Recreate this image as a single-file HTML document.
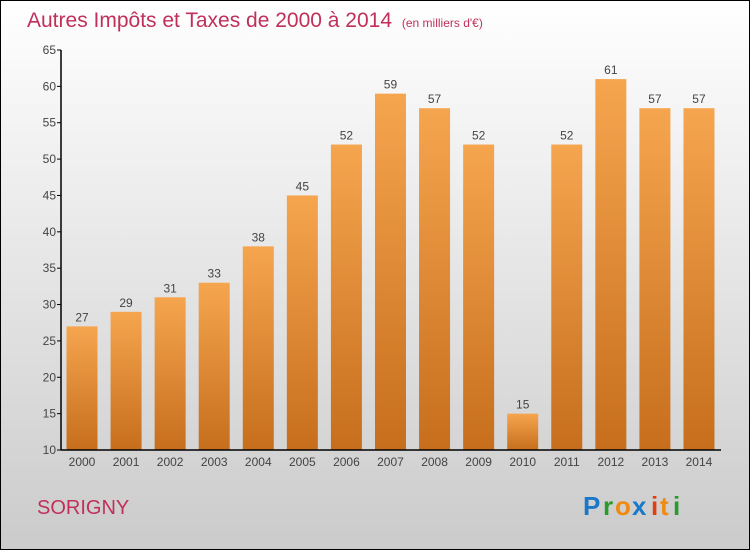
<!DOCTYPE html>
<html><head><meta charset="utf-8"><style>
body{margin:0}
svg{display:block;font-family:"Liberation Sans",sans-serif}
</style></head><body>
<svg id="c" width="750" height="550" xmlns="http://www.w3.org/2000/svg">
<defs>
<linearGradient id="bg" x1="0" y1="0" x2="0" y2="1"><stop offset="0" stop-color="#ffffff"/><stop offset="1" stop-color="#cbcbcb"/></linearGradient>
<linearGradient id="bar" x1="0" y1="0" x2="0" y2="1"><stop offset="0" stop-color="#f6a54f"/><stop offset="1" stop-color="#c66e1c"/></linearGradient>
</defs>
<rect x="0.5" y="0.5" width="749" height="549" fill="url(#bg)" stroke="#000"/>
<text x="27" y="27" font-size="21" fill="#c0305a">Autres Impôts et Taxes de 2000 à 2014 <tspan font-size="12" dx="4">(en milliers d'€)</tspan></text>
<text x="37" y="514" font-size="20" fill="#c0305a">SORIGNY</text>
<g font-size="26" font-weight="bold">
<text x="583" y="515" fill="#1a78c8">P</text><text x="603" y="515" fill="#2a9a2a">r</text><text x="615" y="515" fill="#f08a10">o</text><text x="632" y="515" fill="#1a78c8">x</text><text x="651" y="515" fill="#e04010">i</text><text x="660" y="515" fill="#f08a10">t</text><text x="673" y="515" fill="#2a9a2a">i</text>
</g>
<g id="plot"></g>
</svg>
<script>
const categories=["2000","2001","2002","2003","2004","2005","2006","2007","2008","2009","2010","2011","2012","2013","2014"];
const values=[27,29,31,33,38,45,52,59,57,52,15,52,61,57,57];
const yTicks=[10,15,20,25,30,35,40,45,50,55,60,65];
const NS="http://www.w3.org/2000/svg";
const g=document.getElementById('plot');
const y0=450,y1=50,vmin=10,vmax=65;
function yS(v){return y0-(v-vmin)/(vmax-vmin)*(y0-y1);}
function xS(i){return 82+i*44.07;}
function mk(t,a){const e=document.createElementNS(NS,t);for(const k in a)e.setAttribute(k,a[k]);g.appendChild(e);return e;}
values.forEach((v,i)=>{
 const r=mk('rect',{x:xS(i)-15.5,y:yS(v),width:31,height:y0-yS(v),fill:'url(#bar)'});
 
 
 const l=mk('text',{x:xS(i),y:yS(v)-5,'font-size':12,fill:'#444','text-anchor':'middle'});
 l.textContent=v;
 
 
 const c=mk('text',{x:xS(i),y:466,'font-size':12,fill:'#444','text-anchor':'middle'});
 c.textContent=categories[i];
 
 
});
yTicks.forEach(t=>{
 const tk=mk('line',{x1:57,x2:61,y1:yS(t),y2:yS(t),stroke:'#000'});
 
 
 const l=mk('text',{x:56,y:yS(t)+4,'font-size':12,fill:'#444','text-anchor':'end'});
 l.textContent=t;
 
 
});
const ya=mk('line',{x1:61,x2:61,y1:50,y2:450,stroke:'#000','stroke-width':1.5});


const xa=mk('line',{x1:61,x2:721,y1:450,y2:450,stroke:'#000','stroke-width':1.5});


</script>
</body></html>
